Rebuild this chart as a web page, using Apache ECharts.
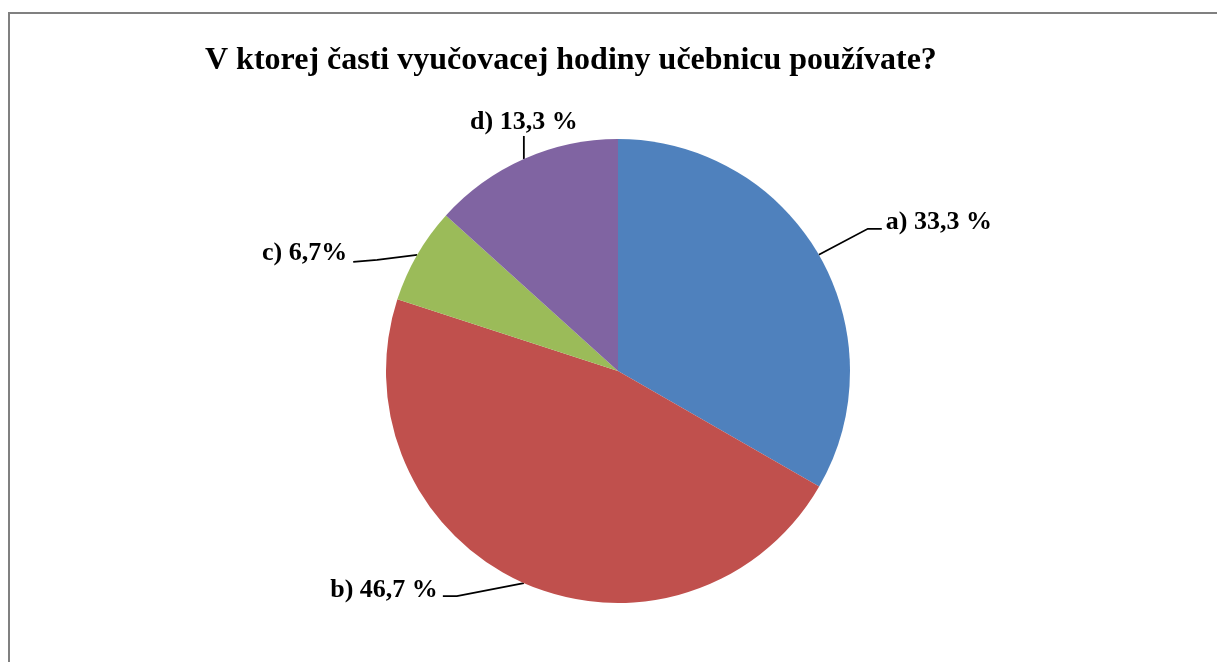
<!DOCTYPE html>
<html><head><meta charset="utf-8">
<script src="https://cdn.jsdelivr.net/npm/echarts@6/dist/echarts.min.js"></script>
<style>html,body{margin:0;padding:0;background:#fff}#c{width:1217px;height:662px}</style>
</head><body><div id="c"></div>
<script>
const titleText = 'V ktorej časti vyučovacej hodiny učebnicu používate?';
const categories = ['a)', 'b)', 'c)', 'd)'];
const values = [33.3, 46.7, 6.7, 13.3];
const labelTexts = ['a) 33,3 %', 'b) 46,7 %', 'c) 6,7%', 'd) 13,3 %'];
const colors = ['#4F81BD', '#C0504D', '#9BBB59', '#8064A2'];

// label placement styles: line points offsets and label offset relative to the slice edge point
const lineOffsets = [
  [[49, -26], [63, -26]],
  [[-67, 13], [-81, 13]],
  [[-40, 5], [-64, 7]],
  [[0, -23]]
];
const labelOffsets = [[67, -33, 'left'], [-86, 7, 'right'], [-70, -2, 'right'], [0, -37, 'center']];

const chart = echarts.init(document.getElementById('c'), null, {renderer: 'canvas'});
chart.setOption({
  animation: false,
  backgroundColor: '#fff',
  graphic: [{
    type: 'rect', shape: {x: 9, y: 13, width: 1300, height: 800},
    style: {fill: 'none', stroke: '#808080', lineWidth: 2}, silent: true
  }],
  title: {
    text: titleText, left: 200, top: 40,
    textStyle: {fontFamily: 'Liberation Serif', fontWeight: 'bold', fontSize: 32, color: '#000'}
  },
  series: [{
    type: 'pie',
    center: [618, 371],
    radius: 232,
    startAngle: 90,
    clockwise: true,
    data: categories.map((c, i) => ({name: c, value: values[i], itemStyle: {color: colors[i]}})),
    itemStyle: {borderWidth: 0},
    label: {
      show: true, position: 'outside',
      formatter: p => labelTexts[p.dataIndex],
      fontFamily: 'Liberation Serif', fontWeight: 'bold', fontSize: 26, color: '#000'
    },
    labelLine: {show: true, length: 20, length2: 10, lineStyle: {color: '#000', width: 1.8}},
    labelLayout: function (params) {
      const i = params.dataIndex;
      const p0 = params.labelLinePoints[0];
      const pts = [[p0[0], p0[1]]].concat(lineOffsets[i].map(o => [p0[0] + o[0], p0[1] + o[1]]));
      const lo = labelOffsets[i];
      return {x: p0[0] + lo[0], y: p0[1] + lo[1], align: lo[2], verticalAlign: 'middle', labelLinePoints: pts};
    },
    emphasis: {disabled: true}
  }]
});
</script></body></html>
